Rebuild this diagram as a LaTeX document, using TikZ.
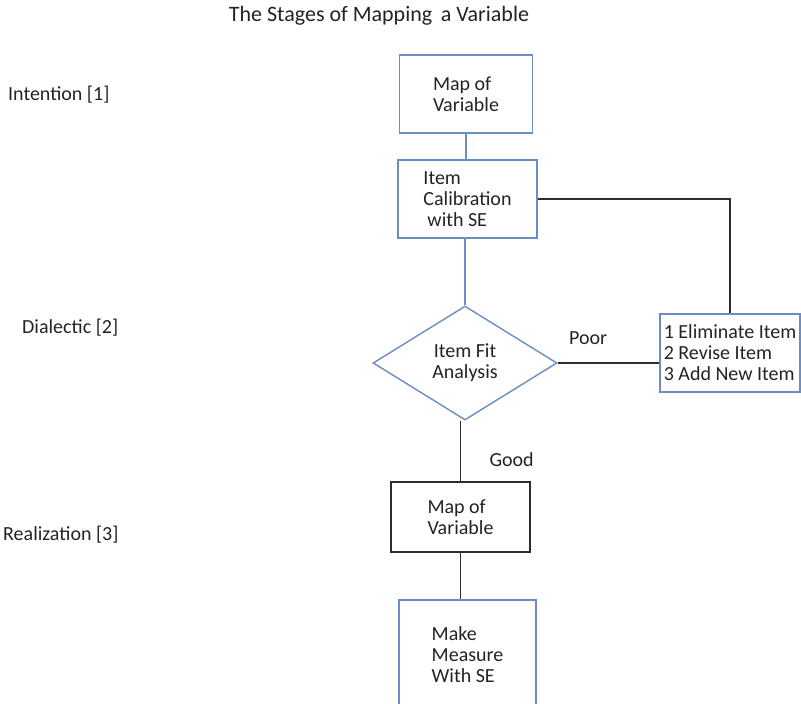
\documentclass[tikz,border=0pt]{standalone}
\usepackage{fontspec}
\setmainfont{Carlito}
\usepackage{xcolor}
\usepackage{tikz}
\usetikzlibrary{shapes.geometric}
\definecolor{boxblue}{RGB}{108,140,196}
\definecolor{lineblack}{RGB}{45,45,45}
\definecolor{txtgray}{RGB}{35,35,35}
\tikzset{
  bluebox/.style={draw=boxblue,line width=1.4pt,rectangle,align=left,inner sep=2pt},
  blackbox/.style={draw=lineblack,line width=1.4pt,rectangle,align=left,inner sep=2pt},
  decision/.style={draw=boxblue,line width=1.4pt,diamond,aspect=1.6,inner sep=0pt,
    minimum width=184pt,minimum height=114pt,align=center},
  stagelabel/.style={anchor=west,inner sep=0pt},
  bluelink/.style={draw=boxblue,line width=1.6pt},
  blacklink/.style={draw=lineblack,line width=1.4pt}}

\begin{document}
\begin{tikzpicture}[x=1pt,y=-1pt,font=\fontsize{20}{21}\selectfont,text=txtgray]
    \useasboundingbox (0,0) rectangle (801,704);

    % Title and stages
    \node[font=\fontsize{22}{24}\selectfont] (title) at (379,16) {The Stages of Mapping\, a Variable};
    \node[stagelabel] (intention) at (8,95) {Intention [1]};
    \node[stagelabel] (dialectic) at (22,328) {Dialectic [2]};
    \node[stagelabel] (realization) at (3,535) {Realization [3]};

    % Boxes
    \node[bluebox,minimum width=133pt,minimum height=78pt] (map1) at (466,94) {Map of\\Variable};
    \node[bluebox,minimum width=139pt,minimum height=78pt] (calib) at (467.5,199) {Item\\Calibration\\\hspace{4pt}with SE};
    \node[decision] (fit) at (465,363) {Item Fit\\Analysis};
    \node[bluebox,minimum width=140pt,minimum height=78pt,inner sep=1pt] (revise) at (730,353) {1 Eliminate Item\\2 Revise Item\\3 Add New Item};
    \node[blackbox,minimum width=139pt,minimum height=70pt] (map2) at (460.5,517) {Map of\\Variable};
    \node[bluebox,minimum width=137pt,minimum height=110pt] (measure) at (467.5,655) {Make\\Measure\\With SE};

    % Connectors
    \draw[bluelink] (map1.south) -- (map1.south |- calib.north);
    \draw[bluelink] (fit.north) -- (fit.north |- calib.south);
    \draw[blacklink] (calib.east) -| (revise.north);
    \draw[blacklink] (fit.east) -- (revise.west |- fit.east) node[pos=0.3,above=14pt] (poor) {Poor};
    \draw[blacklink] (map2.north) -- (map2.north |- fit.south) node[pos=0.35,right=25pt] (good) {Good};
    \draw[blacklink] (map2.south) -- (map2.south |- measure.north);
\end{tikzpicture}
\end{document}
